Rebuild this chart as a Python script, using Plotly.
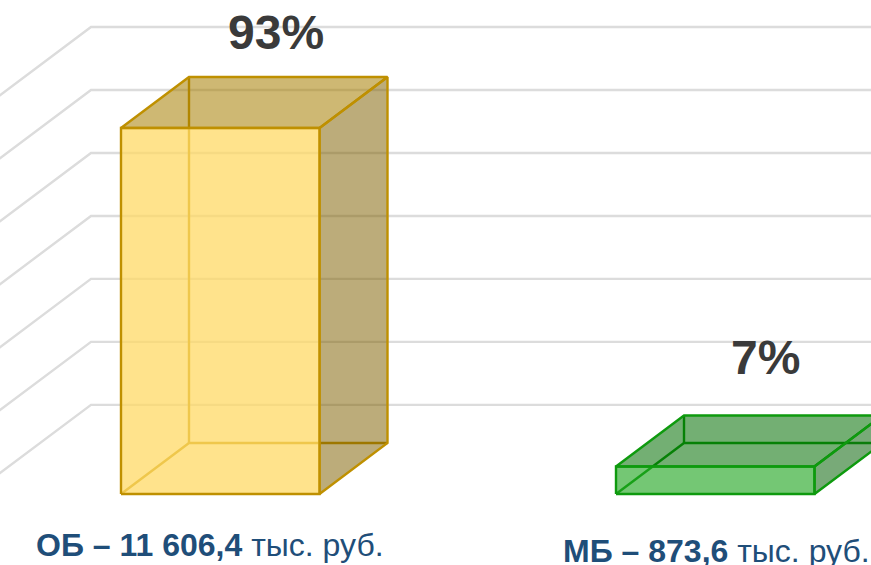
import plotly.graph_objects as go

categories = ["ОБ", "МБ"]
amounts = ["11 606,4", "873,6"]
shares = [93, 7]
grid_levels = [9.7, 25.7, 41.7, 57.7, 73.7, 89.7, 105.7]
unit_label = "тыс. руб."

W, H = 871, 565
PX_PER_PCT = 3.935
PX_PER_CAT = 495.0
X0_PX, Y0_PX = 220.25, 494.0
BAR_W = 198.5 / PX_PER_CAT
DX = 68.0 / PX_PER_CAT
DY = 51.0 / PX_PER_PCT
GRID_LEFT = (91.0 - X0_PX) / PX_PER_CAT

styles = [
    dict(edge="#BF9000", front="rgba(255,217,102,0.75)", top="rgba(165,125,0,0.55)", right="rgba(127,96,0,0.52)"),
    dict(edge="#0E9A0E", front="rgba(30,165,30,0.62)", top="rgba(0,110,0,0.55)", right="rgba(10,100,10,0.55)"),
]
label_dx = [-10.0, 1.0]
label_y = [-13.0, -14.6]
pct_dx = [55.5, 50.0]
pct_dy = [11.3, 14.8]

fig = go.Figure()


def line(xs, ys, color, width=2.4):
    fig.add_trace(go.Scatter(x=xs, y=ys, mode="lines", line=dict(color=color, width=width),
                             hoverinfo="skip", showlegend=False))


def face(xs, ys, fill, color):
    fig.add_trace(go.Scatter(x=xs + xs[:1], y=ys + ys[:1], mode="lines", fill="toself", fillcolor=fill,
                             line=dict(color=color, width=2.4), hoverinfo="skip", showlegend=False))


x_max = (W - X0_PX) / PX_PER_CAT
for lvl in grid_levels:
    line([GRID_LEFT - 2 * DX, GRID_LEFT, x_max], [lvl - DY, lvl + DY, lvl + DY], "#DCDCDC")

for i, v in enumerate(shares):
    s = styles[i]
    l, r = i - BAR_W / 2, i + BAR_W / 2
    line([l + DX, l + DX], [DY, v + DY], s["edge"])
    line([l, l + DX, r + DX], [0, DY, DY], s["edge"])
    face([r, r + DX, r + DX, r], [0, DY, v + DY, v], s["right"], s["edge"])
    face([l, l + DX, r + DX, r], [v, v + DY, v + DY, v], s["top"], s["edge"])
    face([l, r, r, l], [0, 0, v, v], s["front"], s["edge"])

annotations = []
for i, (c, a, v) in enumerate(zip(categories, amounts, shares)):
    annotations.append(dict(x=i + label_dx[i] / PX_PER_CAT, y=label_y[i], xref="x", yref="y", showarrow=False,
                            text=f"<b>{c} – {a}</b> {unit_label}",
                            font=dict(family="Liberation Sans", size=32, color="#1F4E79")))
    annotations.append(dict(x=i + pct_dx[i] / PX_PER_CAT, y=v + DY + pct_dy[i], xref="x", yref="y", showarrow=False,
                            text=f"<b>{v}%</b>",
                            font=dict(family="Liberation Sans", size=48, color="#3A3A3A")))

fig.update_layout(
    width=W, height=H, margin=dict(l=0, r=0, t=0, b=0), autosize=False,
    paper_bgcolor="white", plot_bgcolor="white", annotations=annotations,
    xaxis=dict(range=[-X0_PX / PX_PER_CAT, x_max], visible=False, fixedrange=True),
    yaxis=dict(range=[(Y0_PX - H) / PX_PER_PCT, Y0_PX / PX_PER_PCT], visible=False, fixedrange=True),
)
fig.write_html("out.html", config={"displayModeBar": False},
               post_script="document.body.style.margin='0';document.body.style.overflow='hidden';")
